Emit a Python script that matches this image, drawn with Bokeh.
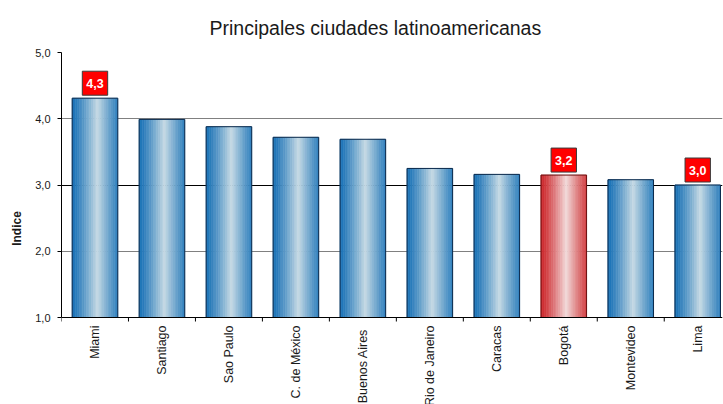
import numpy as np
from bokeh.plotting import figure
from bokeh.models import (Range1d, FixedTicker, CustomJSTickFormatter, ColumnDataSource,
                          Label, Grid, Span)
from bokeh.core.properties import value
from bokeh.embed import file_html
from bokeh.resources import INLINE

# ---------------- data ----------------
cities = ["Miami", "Santiago", "Sao Paulo", "C. de México", "Buenos  Aires",
          "Rio de Janeiro", "Caracas", "Bogotá", "Montevideo", "Lima"]
values = [4.31, 3.99, 3.88, 3.72, 3.69, 3.25, 3.16, 3.15, 3.08, 3.00]
value_labels = ["4,3", "", "", "", "", "", "", "3,2", "", "3,0"]
highlight = [False, False, False, False, False, False, False, True, False, False]
y_ticks = [1, 2, 3, 4, 5]

title = "Principales ciudades latinoamericanas"
y_title = "Indice"

# ---------------- styling ----------------
FONT = "Liberation Sans"
BAR_W = 0.68
N_STRIPS = 26
Y_BASE, Y_TOP = 1, 5
Y_VIEW_MIN = -0.313          # frame continues below the axis so category names fit
BLUE_EDGE, BLUE_MID = (22, 112, 182), (198, 218, 228)
RED_EDGE, RED_MID = (204, 36, 40), (242, 218, 218)
BLUE_LINE, RED_LINE = "#0c2a4c", "#6a1010"


def shade(edge, mid, u):
    t = max(0.0, 1.0 - abs(u - 0.56) / 0.56)
    t = t ** 1.2
    c = [int(round(e + (m - e) * t)) for e, m in zip(edge, mid)]
    return "#%02x%02x%02x" % tuple(c)


centers = [i + 0.5 for i in range(len(cities))]
bounds = list(range(len(cities) + 1))
sx, sw, stop, scol = [], [], [], []
for i, (c, v, h) in enumerate(zip(centers, values, highlight)):
    edge, mid = (RED_EDGE, RED_MID) if h else (BLUE_EDGE, BLUE_MID)
    for k in range(N_STRIPS):
        u = (k + 0.5) / N_STRIPS
        sx.append(c - BAR_W / 2 + u * BAR_W)
        sw.append(BAR_W / N_STRIPS)
        stop.append(v)
        scol.append(shade(edge, mid, u))
strips = ColumnDataSource(dict(x=sx, w=sw, top=stop, color=scol))
bars = ColumnDataSource(dict(x=centers, top=values,
                             line=[RED_LINE if h else BLUE_LINE for h in highlight]))

p = figure(width=723, height=404, output_backend="svg", toolbar_location=None,
           x_range=Range1d(0, 9.87), y_range=Range1d(Y_VIEW_MIN, Y_TOP),
           x_axis_location=None,
           min_border_left=61, min_border_right=1, min_border_top=52,
           min_border_bottom=0)
p.outline_line_color = None
p.background_fill_color = "white"

p.title.text = title
p.title.text_font = FONT
p.title.text_font_size = "19.5px"
p.title.text_font_style = "normal"
p.title.text_color = "#1a1a1a"
p.title.align = "left"
p.title.offset = 148
p.title.standoff = 28

# grids
p.xgrid.visible = False
p.ygrid.ticker = FixedTicker(ticks=[2, 4, 5])
p.ygrid.grid_line_color = "#808080"
p.add_layout(Grid(dimension=1, ticker=FixedTicker(ticks=[3]), grid_line_color="black"))

# bars
p.vbar(x="x", width="w", top="top", bottom=Y_BASE, source=strips,
       fill_color="color", line_color="color", line_width=0.6)
p.vbar(x="x", width=BAR_W, top="top", bottom=Y_BASE, source=bars,
       fill_color=None, line_color="line", line_width=1)

# category axis: line, ticks between categories, rotated names
p.add_layout(Span(location=Y_BASE, dimension="width", line_color="black", line_width=1))
p.ray(x=bounds, y=[Y_BASE] * len(bounds), length=4, length_units="screen",
      angle=-np.pi / 2, line_color="black", line_width=1)
p.text(x=centers, y=[Y_BASE] * len(cities), text=cities, angle=np.pi / 2,
       text_align="right", text_baseline="middle", y_offset=8,
       text_font=value(FONT), text_font_size=value("12.5px"), text_color="#1a1a1a")

# value boxes
for c, v, t in zip(centers, values, value_labels):
    if not t:
        continue
    p.add_layout(Label(x=c, y=v, text=t, text_align="center", text_baseline="middle",
                       y_offset=15, text_color="white", text_font=FONT,
                       text_font_size="12.5px", text_font_style="bold",
                       background_fill_color="#ff0000", border_line_color="#3a3a3a",
                       border_line_width=1, padding=(4, 4, 8, 7)))

# y axis
p.yaxis.bounds = (Y_BASE, Y_TOP)
p.yaxis.ticker = FixedTicker(ticks=y_ticks)
p.yaxis.formatter = CustomJSTickFormatter(code="return tick.toFixed(1).replace('.', ',');")
p.yaxis.major_tick_out = 4
p.yaxis.major_tick_in = 0
p.yaxis.minor_tick_out = 0
p.yaxis.minor_tick_in = 0
p.yaxis.axis_line_color = "black"
p.yaxis.major_tick_line_color = "black"
p.yaxis.major_label_text_font = FONT
p.yaxis.major_label_text_font_size = "11px"
p.yaxis.major_label_text_color = "#1a1a1a"
p.yaxis.major_label_standoff = 7
p.yaxis.axis_label = y_title
p.yaxis.axis_label_text_font = FONT
p.yaxis.axis_label_text_font_size = "12px"
p.yaxis.axis_label_text_font_style = "bold"
p.yaxis.axis_label_text_color = "#1a1a1a"
p.yaxis.axis_label_standoff = 8

open("out.html", "w").write(file_html(p, INLINE))
